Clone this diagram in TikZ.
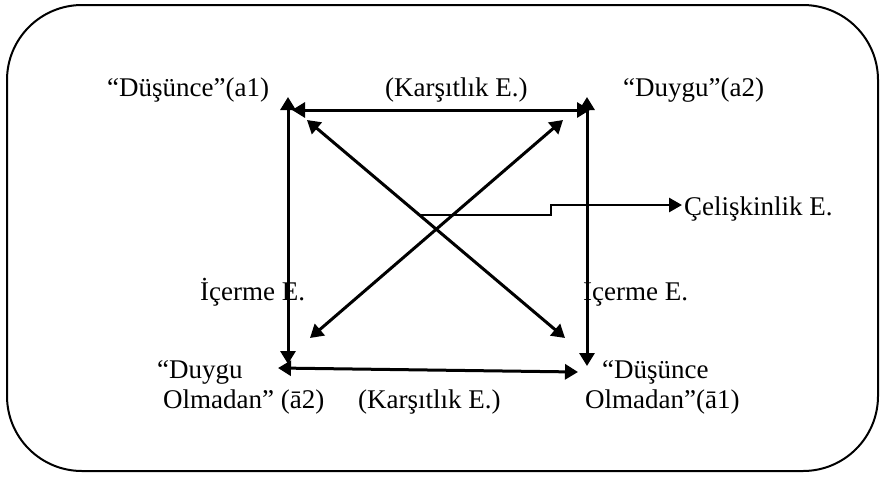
\documentclass[tikz,border=0pt]{standalone}
\usepackage{fontspec}
\setmainfont{Liberation Serif}
\usetikzlibrary{arrows.meta}

\begin{document}
\begin{tikzpicture}[x=1pt,y=-1pt]
\tikzset{
  textlabel/.style={inner sep=0pt,anchor=base west,align=left,font=\fontsize{27}{30}\selectfont},
  twoway/.style={{Triangle[length=13pt,width=15pt]}-{Triangle[length=13pt,width=15pt]},line width=3pt},
  oneway/.style={-{Triangle[length=13pt,width=14pt]},line width=2.8pt},
  frame/.style={line width=2pt,rounded corners=75pt}
}
\useasboundingbox (0,0) rectangle (880,477);
\draw[frame] (7,5) rectangle (878,471);
% corner labels
\node[textlabel] (a1) at (107,96) {“Düşünce”(a1)};
\node[textlabel] (a2) at (623,96) {“Duygu”(a2)};
\node[textlabel] (na2) at (157,408) {“Duygu\\\hspace*{6pt}Olmadan” (ā2)};
\node[textlabel] (na1) at (585,408) {\hspace*{17pt}“Düşünce\\Olmadan”(ā1)};
% relation labels
\node[textlabel] (kar_top) at (385,96) {(Karşıtlık E.)};
\node[textlabel] (kar_bot) at (358,408) {(Karşıtlık E.)};
\node[textlabel] (ice_l) at (200,300) {İçerme E.};
\node[textlabel] (ice_r) at (583,300) {İçerme E.};
\node[textlabel] (celis) at (684,215) {Çelişkinlik E.};
% arrow ends
\coordinate (lv_top) at (288,97);
\coordinate (lv_bot) at (288,364);
\coordinate (rv_top) at (587,97);
\coordinate (rv_bot) at (587,366);
\coordinate (th_l) at (292,110);
\coordinate (th_r) at (590,110);
\coordinate (bh_l) at (278,368);
\coordinate (bh_r) at (578,372);
\coordinate (d1_a) at (307,120);
\coordinate (d1_b) at (565,338);
\coordinate (d2_a) at (563,120);
\coordinate (d2_b) at (310,338);
\coordinate (cel_start) at (420,215);
\coordinate (cel_step) at (551,215);
\coordinate (cel_tip) at (682,205);
% square
\draw[twoway] (th_l) -- (th_r);
\draw[twoway] (bh_l) -- (bh_r);
\draw[twoway] (lv_top) -- (lv_bot);
\draw[twoway] (rv_top) -- (rv_bot);
% diagonals
\draw[twoway] (d1_a) -- (d1_b);
\draw[twoway] (d2_a) -- (d2_b);
\draw[oneway] (cel_start) -- (cel_step) |- (cel_tip);
\end{tikzpicture}
\end{document}
